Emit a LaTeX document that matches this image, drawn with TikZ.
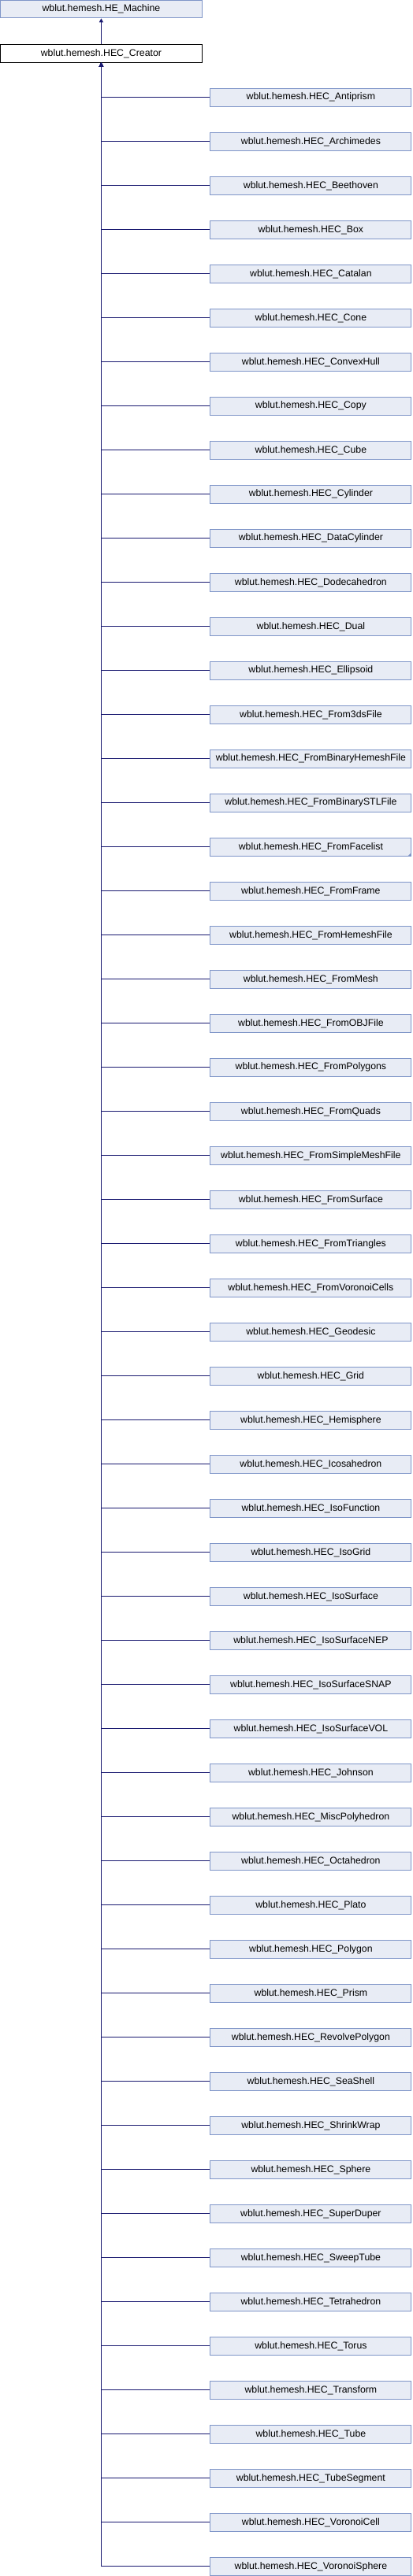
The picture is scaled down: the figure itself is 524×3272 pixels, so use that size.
\documentclass[tikz,border=0pt]{standalone}
\usepackage{fontspec}
\setmainfont{Liberation Sans}
\usetikzlibrary{arrows.meta}
\definecolor{boxfill}{HTML}{E8ECF5}
\definecolor{boxline}{HTML}{7F95C8}
\definecolor{edgecol}{HTML}{191970}
\tikzset{
  cls/.style={draw=boxline, fill=boxfill, line width=0.9pt, minimum width=255pt, minimum height=22.5pt, inner sep=0pt, font=\fontsize{12.3}{14}\selectfont, anchor=center},
  cur/.style={cls, draw=black, fill=white},
  edge/.style={draw=edgecol, line width=1pt, {Triangle[length=5pt,width=5pt]}-}
}
\begin{document}
\begin{tikzpicture}[x=1pt,y=1pt]
\useasboundingbox (0,0) rectangle (524,-3272);
\node[cls, minimum width=255.8pt] (machine) at (128.4,-11.6) {wblut.hemesh.HE\_Machine};
\node[cur, minimum width=255.8pt] (creator) at (128.4,-68) {wblut.hemesh.HEC\_Creator};
\draw[edge] (machine.south) -- (creator.north);
\foreach \n [count=\i from 0] in {Antiprism,Archimedes,Beethoven,Box,Catalan,Cone,ConvexHull,Copy,Cube,Cylinder,DataCylinder,Dodecahedron,Dual,Ellipsoid,From3dsFile,FromBinaryHemeshFile,FromBinarySTLFile,FromFacelist,FromFrame,FromHemeshFile,FromMesh,FromOBJFile,FromPolygons,FromQuads,FromSimpleMeshFile,FromSurface,FromTriangles,FromVoronoiCells,Geodesic,Grid,Hemisphere,Icosahedron,IsoFunction,IsoGrid,IsoSurface,IsoSurfaceNEP,IsoSurfaceSNAP,IsoSurfaceVOL,Johnson,MiscPolyhedron,Octahedron,Plato,Polygon,Prism,RevolvePolygon,SeaShell,ShrinkWrap,Sphere,SuperDuper,SweepTube,Tetrahedron,Torus,Transform,Tube,TubeSegment,VoronoiCell,VoronoiSphere} {
  \node[cls] (c\i) at (394.4,-123.8-56*\i) {wblut.hemesh.HEC\_\n};
  \draw[edge] (creator.south) |- (c\i.west);
}
\fill[boxline] ([xshift=-0.5pt,yshift=0.5pt]c17.south east) -- ++(-4,0) -- ++(4,4) -- cycle;
\end{tikzpicture}
\end{document}
